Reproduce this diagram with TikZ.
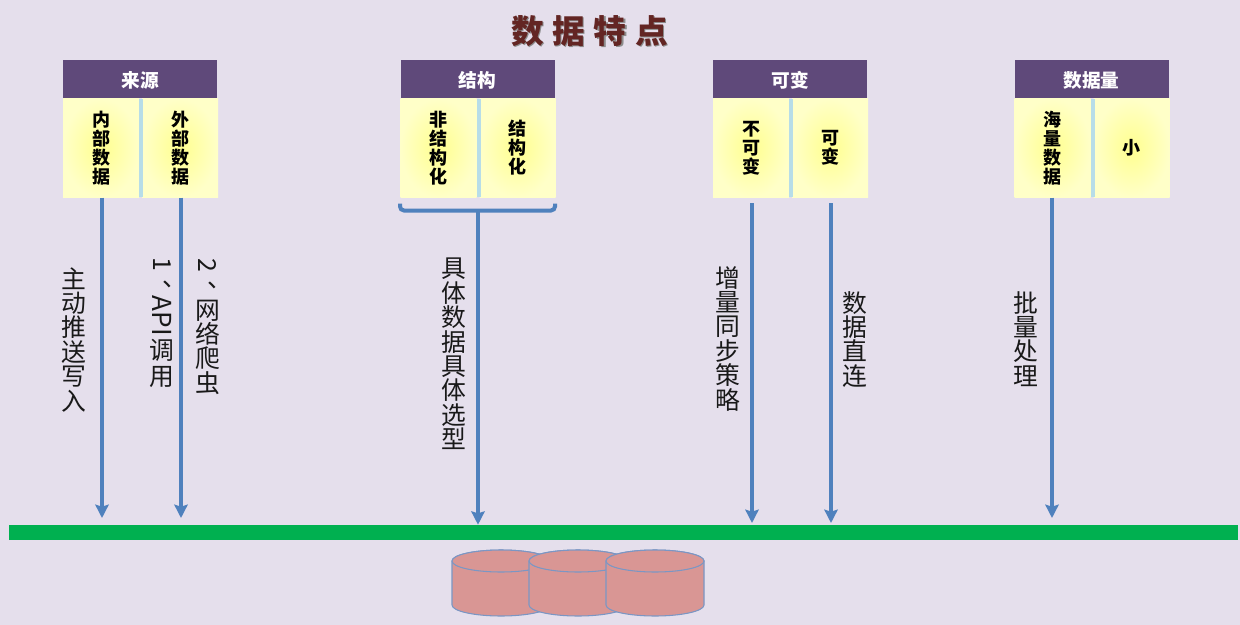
\documentclass[tikz,border=0pt]{standalone}
\usepackage{fontspec}
\usepackage{graphicx}
\usetikzlibrary{arrows.meta,shapes.geometric,calc}
\setmainfont{Noto Sans CJK SC}
\definecolor{bgc}{HTML}{E5DFEC}
\definecolor{headc}{HTML}{5F497A}
\definecolor{gapc}{HTML}{B7DDE8}
\definecolor{armc}{HTML}{4F81BD}
\definecolor{barc}{HTML}{00B050}
\definecolor{cylf}{HTML}{D99694}
\definecolor{cyld}{HTML}{7B96C4}
\definecolor{titlec}{HTML}{632523}
\definecolor{yin}{HTML}{FFFF8F}
\definecolor{yout}{HTML}{FFFFC8}
\newcommand{\rl}[1]{\rotatebox[origin=c]{-90}{#1}}
\newcommand{\dun}{\smash{\raisebox{0.45em}{\makebox[1em][l]{\kern0.5em 、}}}}
\tikzset{
  x=0.75pt,y=-0.75pt,
  head/.style={fill=headc,draw=none,minimum width=115.5pt,minimum height=28.5pt,inner sep=0,text=white,text height=14pt,text depth=1.4pt,font=\fontsize{14}{14}\selectfont\bfseries},
  gapbar/.style={fill=gapc,draw=none,minimum width=3pt,minimum height=74pt,inner sep=0},
  cell/.style={inner color=yin,outer color=yout,draw=none,minimum width=57pt,minimum height=74pt,inner sep=0,align=center,font=\fontsize{13.5}{14.25}\selectfont\bfseries},
  flow/.style={draw=armc,line width=3pt,-{Stealth[length=10pt,width=10pt,inset=1.5pt]}},
  lab/.style={anchor=north,inner sep=0,align=center,text=black!90,font=\fontsize{18.6}{18.3}\selectfont},
  bracket/.style={draw=armc,line width=3pt,rounded corners=3pt},
  cyl/.style={draw=cyld,fill=cylf,line width=0.8pt},
  titletext/.style={inner sep=0,font=\fontsize{24.5}{26}\selectfont\bfseries},
}
\begin{document}
\begin{tikzpicture}
\useasboundingbox (0,0) rectangle (1240,625);
\fill[bgc] (0,0) rectangle (1240,625);
% title
\node[titletext,text=black!45] (titleshadow) at (591,32.5) {数\hspace{6.5pt}据\hspace{6.5pt}特\hspace{6.5pt}点};
\node[titletext,text=titlec] (title) at (589.5,31) {数\hspace{6.5pt}据\hspace{6.5pt}特\hspace{6.5pt}点};
% column 1
\node[head] (h1) at (140,79) {来源};
\node[cell] (c1a) at (101,148) {内\\部\\数\\据};
\node[cell] (c1b) at (180,148) {外\\部\\数\\据};
\node[gapbar] (g1) at (141,148) {};
% column 2
\node[head] (h2) at (477.5,79) {结构};
\node[cell] (c2a) at (438.5,148) {非\\结\\构\\化};
\node[cell] (c2b) at (517.5,148) {结\\构\\化};
\node[gapbar] (g2) at (478.5,148) {};
% column 3
\node[head] (h3) at (790,79) {可变};
\node[cell] (c3a) at (751,148) {不\\可\\变};
\node[cell] (c3b) at (830,148) {可\\变};
\node[gapbar] (g3) at (791,148) {};
% column 4
\node[head] (h4) at (1091.5,79) {数据量};
\node[cell] (c4a) at (1052.5,148) {海\\量\\数\\据};
\node[cell] (c4b) at (1131.5,148) {小};
\node[gapbar] (g4) at (1092.5,148) {};
% bar
\node[fill=barc,draw=none,minimum width=921.75pt,minimum height=11.25pt,inner sep=0] (bar) at (623.5,532.5) {};
% cylinders
\foreach \n/\cx in {d1/501,d2/578,d3/655}{
  \node[coordinate] (\n) at (\cx,561) {};
  \draw[cyl] (\cx-49,561) -- (\cx-49,605) arc[start angle=180,end angle=360,x radius=36.75pt,y radius=8.25pt] -- (\cx+49,561) arc[start angle=0,end angle=-180,x radius=36.75pt,y radius=-8.25pt] -- cycle;
  \draw[cyl] (\cx,561) ellipse[x radius=36.75pt,y radius=8.25pt];
}
% bracket
\coordinate (bl) at (400,203.5);
\coordinate (br) at (555,203.5);
\coordinate (bm) at (478,210.5);
\draw[bracket] (bl) |- (bm) -| (br);
% arrow starts and ends
\coordinate (s1a) at (102,197.5);
\coordinate (s1b) at (181,197.5);
\coordinate (s3a) at (752,203);
\coordinate (s3b) at (831,203);
\coordinate (s4) at (1052,197.5);
\coordinate (e1a) at (102,518);
\coordinate (e1b) at (181,518);
\coordinate (e2) at (bm |- bar.north);
\coordinate (e3a) at (752,523);
\coordinate (e3b) at (831,523);
\coordinate (e4) at (1052,518);
\draw[flow] (s1a) -- (e1a);
\draw[flow] (s1b) -- (e1b);
\draw[flow] (bm) -- (e2);
\draw[flow] (s3a) -- (e3a);
\draw[flow] (s3b) -- (e3b);
\draw[flow] (s4) -- (e4);
% labels
\node[lab] (l1) at (74,267) {主\\动\\推\\送\\写\\入};
\node[lab] (l2) at (162,257) {\rl{1}\\\dun\\[-2.3pt]\rl{\fontsize{19.6}{20}\selectfont API}\\[1.5pt]调\\[1pt]用};
\node[lab] (l3) at (207.5,258) {\rl{2}\\\dun\\[-2.9pt]网\\络\\爬\\虫};
\node[lab] (l4) at (454,258) {具\\体\\数\\据\\具\\体\\选\\型};
\node[lab] (l5) at (728,266) {增\\量\\同\\步\\策\\略};
\node[lab] (l6) at (855,291) {数\\据\\直\\连};
\node[lab] (l7) at (1026,291) {批\\量\\处\\理};
\end{tikzpicture}
\end{document}
